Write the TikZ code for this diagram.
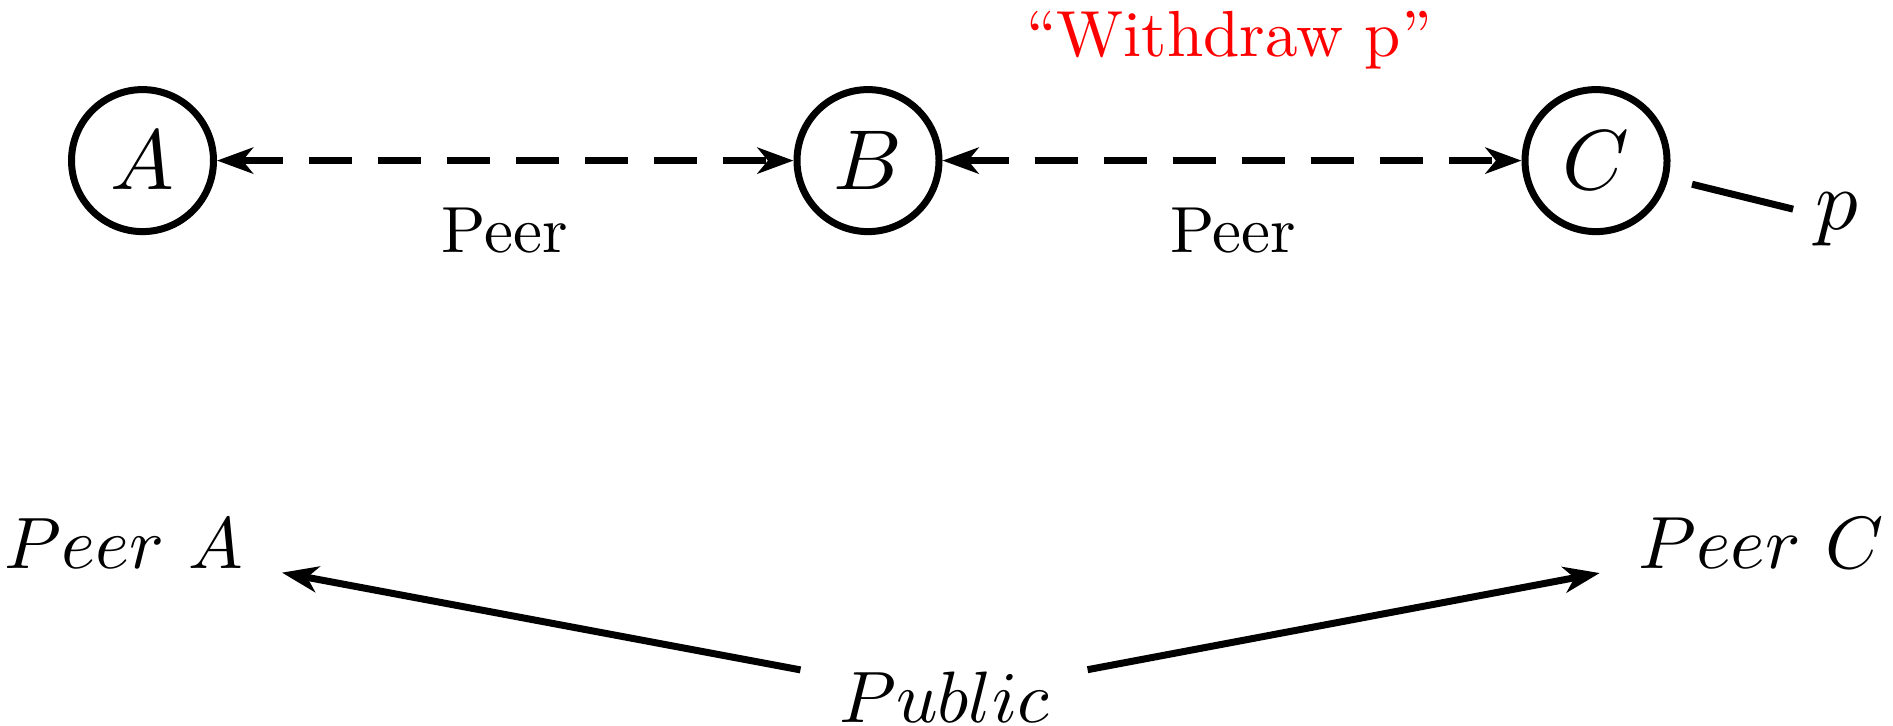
\documentclass[tikz,border=0pt]{standalone}
\usepackage{graphicx}
\usetikzlibrary{arrows.meta}
% text set in the 10pt design and enlarged as a whole
\newcommand\rtrname[1]{\scalebox{2.125}{$#1$}}
\newcommand\sitename[2]{\scalebox{#1}{$#2$}}
\newcommand\lbltext[1]{\scalebox{1.63}{#1}}
\begin{document}
\begin{tikzpicture}[x=0.25pt,y=-0.25pt,
  >={Stealth[length=9pt,width=6.5pt,inset=2.6pt]},
  router/.style={circle,draw,line width=1.75pt,minimum size=35.5pt,inner sep=0pt},
  prefixlbl/.style={inner sep=0pt,outer sep=0pt,anchor=base},
  peerlink/.style={<->,line width=1.75pt,dash pattern=on 10.75pt off 6.5pt},
  edgelbl/.style={inner sep=0pt,anchor=base},
  site/.style={inner sep=9.5pt,anchor=base},
  announce/.style={->,line width=1.75pt}]
\useasboundingbox (0,0) rectangle (1893,726);

% routers
\node[router] (A) at (142.5,160.6) {\rtrname{A}};
\node[router] (B) at (868,160.6) {\rtrname{B}};
\node[router] (C) at (1596,160.6) {\rtrname{C}};
\node[prefixlbl] (p) at (1837,230) {\rtrname{p}};

% peering sessions
\draw[peerlink] (A) -- (B);
\draw[peerlink] (B) -- (C);
\node[edgelbl] (lab) at (505,252.7) {\lbltext{Peer}};
\node[edgelbl] (lbc) at (1233,252.7) {\lbltext{Peer}};
\node[edgelbl,text=red] (wd) at (1229,57) {\lbltext{\textquotedblleft Withdraw p\textquotedblright}};

% C originates p
\draw[line width=1.75pt,shorten <=6.1pt,shorten >=5.8pt] (C) -- (p);

% export policy
\node[site] (pa) at (124,568) {\sitename{1.82}{Peer\ A}};
\node[site] (pc) at (1761,568) {\sitename{1.85}{Peer\ C}};
\node[site] (pub) at (944,722) {\sitename{1.82}{Public}};
\draw[announce] (pub) -- (pa);
\draw[announce] (pub) -- (pc);
\end{tikzpicture}
\end{document}
